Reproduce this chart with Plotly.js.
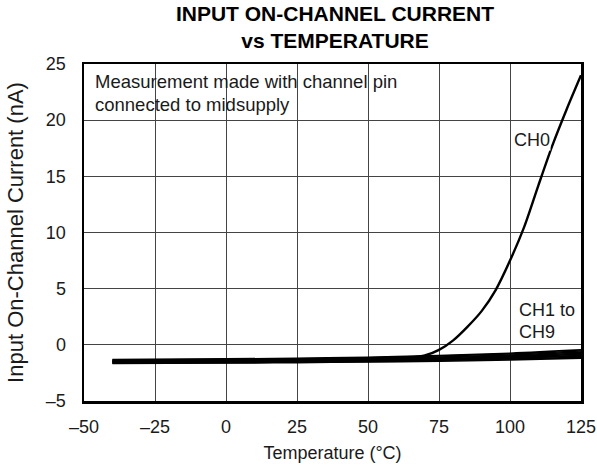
<!DOCTYPE html>
<html>
<head>
<meta charset="utf-8">
<script src="https://cdn.plot.ly/plotly-3.0.1.min.js"></script>
<style>html,body{margin:0;padding:0;background:#fff;}#chart{width:597px;height:466px;}</style>
</head>
<body>
<div id="chart"></div>
<script>
// Data
const ch0Temp = [-40, 0, 25, 50, 60, 65, 70, 75, 80, 85, 90, 95, 100, 105, 110, 115, 120, 125];
const ch0Current = [-1.5, -1.45, -1.4, -1.3, -1.25, -1.15, -0.95, -0.45, 0.4, 1.6, 3.0, 4.9, 7.5, 10.5, 14.2, 17.8, 21.0, 24.0];

const bundleTemp = [-40, 0, 25, 50, 75, 100, 125];
const ch1 = [-1.30, -1.25, -1.20, -1.10, -0.95, -0.75, -0.45];
const ch2 = [-1.35, -1.30, -1.25, -1.15, -1.00, -0.82, -0.55];
const ch3 = [-1.40, -1.35, -1.30, -1.22, -1.08, -0.90, -0.65];
const ch4 = [-1.45, -1.40, -1.35, -1.28, -1.15, -0.98, -0.75];
const ch5 = [-1.50, -1.45, -1.40, -1.33, -1.22, -1.05, -0.85];
const ch6 = [-1.55, -1.50, -1.45, -1.38, -1.28, -1.12, -0.95];
const ch7 = [-1.58, -1.55, -1.50, -1.44, -1.35, -1.20, -1.02];
const ch8 = [-1.62, -1.58, -1.54, -1.48, -1.40, -1.26, -1.10];
const ch9 = [-1.66, -1.62, -1.58, -1.53, -1.46, -1.34, -1.18];
const bundle = [ch1, ch2, ch3, ch4, ch5, ch6, ch7, ch8, ch9];

const xTickVals = [-50, -25, 0, 25, 50, 75, 100, 125];
const xTickText = ['–50', '–25', '0', '25', '50', '75', '100', '125'];
const yTickVals = [-5, 0, 5, 10, 15, 20, 25];
const yTickText = ['–5', '0', '5', '10', '15', '20', '25'];

const FONT = 'Liberation Sans, Arial, Helvetica, sans-serif';
const TXT = '#1a1a1a';
const FS = 18;

const traces = bundle.map((ys, i) => ({
  x: bundleTemp, y: ys, type: 'scatter', mode: 'lines',
  line: {color: '#000', width: 1.6, shape: 'spline'},
  name: 'CH' + (i + 1), hoverinfo: 'skip'
}));
traces.push({
  x: ch0Temp, y: ch0Current, type: 'scatter', mode: 'lines',
  line: {color: '#000', width: 2.4, shape: 'spline', smoothing: 0.8},
  name: 'CH0', hoverinfo: 'skip'
});

const layout = {
  width: 597, height: 466,
  margin: {l: 84, r: 16, t: 64, b: 65},
  paper_bgcolor: '#fff', plot_bgcolor: '#fff',
  showlegend: false,
  font: {family: FONT, size: FS, color: TXT},
  title: {
    text: '<b>INPUT ON-CHANNEL CURRENT<br>vs TEMPERATURE</b>',
    font: {family: FONT, size: 21, color: '#000'},
    x: 335 / 597, xanchor: 'center', xref: 'container',
    y: 1 - 21 / 466, yanchor: 'top', yref: 'container'
  },
  xaxis: {
    range: [-50, 125], tickvals: xTickVals, ticktext: xTickText,
    showgrid: true, gridcolor: '#444', gridwidth: 1,
    zeroline: false, showline: true, linecolor: '#000', linewidth: 2.5, mirror: true,
    ticks: '', ticklen: 0, ticklabelstandoff: 8,
    tickfont: {family: FONT, size: FS, color: TXT},
    title: {text: 'Temperature (°C)', font: {family: FONT, size: FS, color: TXT}, standoff: 11}
  },
  yaxis: {
    range: [-5, 25], tickvals: yTickVals, ticktext: yTickText,
    showgrid: true, gridcolor: '#444', gridwidth: 1,
    zeroline: false, showline: true, linecolor: '#000', linewidth: 2.5, mirror: true,
    ticks: '', ticklen: 0, ticklabelstandoff: 12,
    tickfont: {family: FONT, size: FS, color: TXT},
    title: {text: 'Input On-Channel Current (nA)', font: {family: FONT, size: 22, color: TXT}, standoff: 16}
  },
  shapes: [{
    type: 'rect', xref: 'paper', yref: 'paper', layer: 'between',
    x0: 0.003, x1: 0.645, y0: 0.84, y1: 0.985,
    fillcolor: '#fff', line: {width: 0}
  }],
  annotations: [
    {xref: 'paper', yref: 'paper', x: (93 - 84) / 497, y: (401 - 81.5) / 337, xanchor: 'left', yanchor: 'middle',
     text: 'Measurement made with channel pin', showarrow: false, font: {family: FONT, size: 18.5, color: TXT}},
    {xref: 'paper', yref: 'paper', x: (93 - 84) / 497, y: (401 - 104) / 337, xanchor: 'left', yanchor: 'middle',
     text: 'connected to midsupply', showarrow: false, font: {family: FONT, size: 18.5, color: TXT}},
    {xref: 'x', yref: 'y', x: 107.7, y: 18.2, xanchor: 'center', yanchor: 'middle',
     text: 'CH0', showarrow: false, bgcolor: '#fff', borderpad: 0, font: {family: FONT, size: FS, color: TXT}},
    {xref: 'x', yref: 'y', x: 102.8, y: 3.1, xanchor: 'left', yanchor: 'middle',
     text: 'CH1 to', showarrow: false, bgcolor: '#fff', borderpad: 0, font: {family: FONT, size: FS, color: TXT}},
    {xref: 'x', yref: 'y', x: 102.8, y: 1.1, xanchor: 'left', yanchor: 'middle',
     text: 'CH9', showarrow: false, bgcolor: '#fff', borderpad: 0, font: {family: FONT, size: FS, color: TXT}}
  ]
};

Plotly.newPlot('chart', traces, layout, {displayModeBar: false, staticPlot: true});
</script>
</body>
</html>
